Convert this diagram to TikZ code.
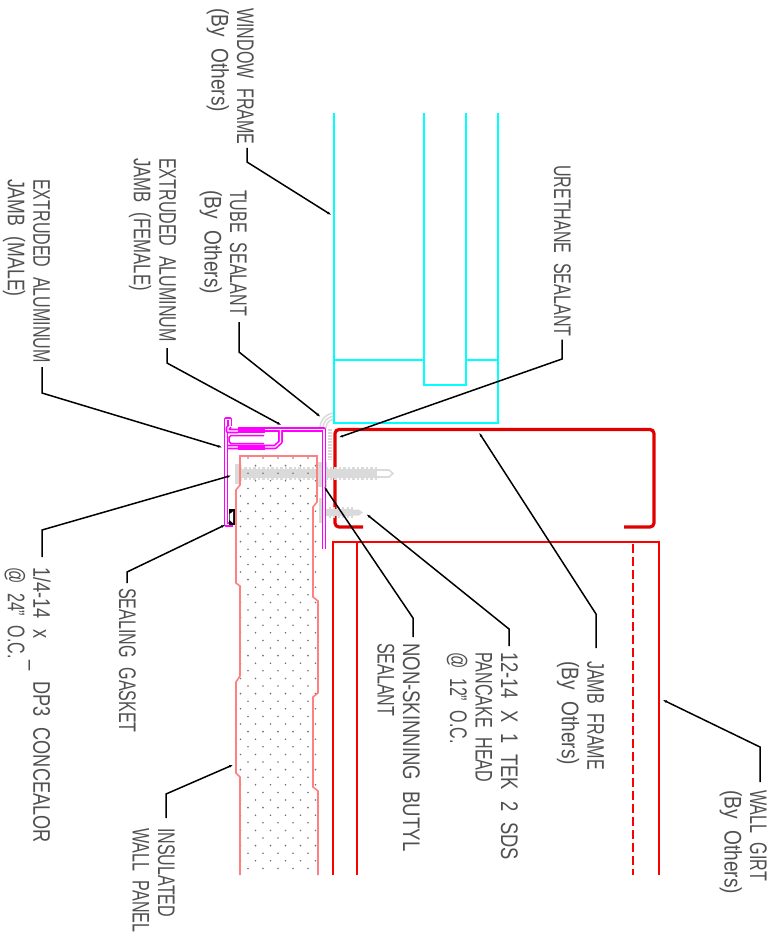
\documentclass[tikz,border=0pt]{standalone}
\usepackage{fontspec}
\setmainfont{Liberation Sans}
\usetikzlibrary{arrows.meta}
\definecolor{txtgray}{RGB}{80,80,80}
\definecolor{jambred}{RGB}{225,0,0}
\definecolor{panelred}{RGB}{255,128,128}
\definecolor{fastgray}{RGB}{218,218,218}
\definecolor{cadcyan}{RGB}{0,255,255}
\definecolor{cadpink}{RGB}{255,0,255}
\newcommand{\wider}[2]{\scalebox{#1}[1]{#2}}
\newcommand{\byothers}{\wider{1.19}{(By Others)}}
\tikzset{ lbl/.style = { rotate        = -90
                       , xscale        = 0.67
                       , transform shape
                       , anchor        = north west
                       , inner sep     = 0pt
                       , align         = left
                       , text          = txtgray
                       , font          = \fontsize{24}{25.5}\selectfont
                       , execute at begin node = {\spaceskip=.6em\relax}
                       },
            lead/.style = { draw = black
                       , line width = 1.5pt
                       , -{Latex[length=6pt,width=2.6pt]}
                       },
            glass/.style = { draw = cadcyan, line width = 1.3pt },
            girt/.style = { draw = red, line width = 1.4pt },
            alum/.style = { draw = cadpink
                       , line width = 1.7pt
                       , double = white
                       , double distance = 1.2pt
                       , line join = round
                       },
            thread/.style = { draw = fastgray, line width = 2.6pt }
          }

\begin{document}
\begin{tikzpicture}[x=1pt,y=-1pt]
    \useasboundingbox (0,0) rectangle (776,938);
    % tube sealant
    \foreach \r in {9,12,15} {
        \draw[draw=fastgray, line width=1.5pt] (335-\r,428) arc (180:270:\r);
    }
    \draw[draw=fastgray, line width=4pt, dash pattern=on 2pt off 1pt] (330,429) -- (330,460);
    % window frame
    \draw[glass] (334,113) -- (334,423) -- (498,423) -- (498,113);
    \draw[glass] (424,113) -- (424,385) -- (466,385) -- (466,113);
    \draw[glass] (334,360) -- (424,360);
    \draw[glass] (466,360) -- (498,360);
    % wall girt
    \draw[girt] (333,875) -- (333,542) -- (659,542) -- (659,875);
    \draw[girt] (357,542) -- (357,875);
    \draw[girt, dash pattern=on 9pt off 4pt] (633,544) -- (633,875);
    % jamb frame
    \draw[draw=jambred, line width=3.2pt, rounded corners=4pt]
        (363,527) -- (335,527) -- (335,429.5) -- (654,429.5) -- (654,527) -- (624,527);
    % screws
    \fill[fastgray] (235,464) rectangle (240,484);
    \fill[fastgray] (240,469) rectangle (377,478);
    \foreach \x in {241,245.5,...,376} {
        \draw[thread] (\x,467) -- (\x,480);
    }
    \fill[fastgray] (318,462) rectangle (327,487);
    \draw[draw=fastgray, line width=1.6pt] (377,470) -- (389,470) -- (393,473.5) -- (389,477) -- (377,477);
    \fill[fastgray] (319,498) rectangle (323,523);
    \fill[fastgray] (323,509) rectangle (352,516);
    \foreach \x in {325,329.5,...,352} {
        \draw[draw=fastgray, line width=2pt] (\x,507) -- (\x,518);
    }
    \fill[fastgray] (352,509.5) -- (359,509.5) -- (363,512.5) -- (359,515.5) -- (352,515.5) -- cycle;
    % insulated panel
    \begin{scope}
        \clip (236,456) rectangle (319,875);
        \foreach \r in {0,...,54} {
            \foreach \c in {0,...,5} {
                \pgfmathsetmacro{\dotx}{(mod(\r,2)==0 ? 248 : 240.5)+15*\c}
                \fill[black!55] (\dotx,458+7.6*\r) circle (0.9pt);
            }
        }
    \end{scope}
    \draw[draw=panelred, line width=1.6pt]
        (240,875) -- (240,777) -- (236,773) -- (236,682) -- (240,676) -- (240,586) -- (236,583)
        -- (236,490) -- (240,485) -- (240,456) -- (317,456) -- (317,502) -- (313,507)
        -- (313,597) -- (318,601) -- (318,693) -- (313,697) -- (313,787) -- (318,791) -- (318,875);
    % extruded aluminum
    \draw[alum] (324,549) -- (324,429.5) -- (238,429.5);
    \draw[alum] (280.5,430) -- (280.5,442) -- (275,447) -- (227,447);
    \draw[alum] (230,426) -- (230,419.5) -- (226,419.5) -- (226,524.5) -- (233,524.5);
    \draw[alum] (230,426) -- (228,428) -- (228,431) -- (238,431);
    \draw[draw=cadpink, line width=1.5pt] (264,435.5) -- (231,435.5) -- (229,437.5) -- (229,441.5) -- (231,443.5) -- (264,443.5);
    \fill[cadpink] (238,428) rectangle (265,433);
    \fill[cadpink] (238,444.5) rectangle (265,449.5);
    % sealing gasket
    \fill[black] (228.5,509) rectangle (235,525);
    \fill[white] (229.5,514) -- (232.5,512) -- (233,511) -- (233,523) -- (229.5,520) -- cycle;
    % labels
    \node[lbl] (wframe) at (254,8) {WINDOW FRAME\\\byothers};
    \node[lbl] (tube) at (247,190) {TUBE SEALANT\\\byothers};
    \node[lbl] (female) at (176,158) {EXTRUDED ALUMINUM\\\wider{1.04}{JAMB (FEMALE)}};
    \node[lbl] (male) at (50,179) {EXTRUDED ALUMINUM\\\wider{1.1}{JAMB (MALE)}};
    \node[lbl] (urethane) at (571,165) {URETHANE SEALANT};
    \node[lbl] (jframe) at (604,661) {JAMB FRAME\\\byothers};
    \node[lbl] (wgirt) at (767,790) {WALL GIRT\\\byothers};
    \node[lbl] (tek) at (518,652) {\wider{1.14}{12-14 X 1 TEK 2 SDS}\\PANCAKE HEAD\\@ 12" O.C.};
    \node[lbl] (butyl) at (420,643) {\wider{1.155}{NON-SKINNING BUTYL}\\SEALANT};
    \node[lbl] (ipanel) at (175,828) {INSULATED\\WALL PANEL};
    \node[lbl] (gasket) at (136,588) {SEALING GASKET};
    \node[lbl] (dpthree) at (51,567) {\wider{1.13}{1/4-14 x\ \ \_ DP3 CONCEALOR}\\@ 24" O.C.};
    % leaders
    \coordinate (wframe bend) at (247,162);
    \coordinate (wframe tip) at (333,216);
    \coordinate (tube bend) at (239,352);
    \coordinate (tube tip) at (322,418);
    \coordinate (female bend) at (167,363);
    \coordinate (female tip) at (283,426);
    \coordinate (male bend) at (42,393);
    \coordinate (male tip) at (224,448);
    \coordinate (urethane bend) at (562,359);
    \coordinate (urethane tip) at (337,438);
    \coordinate (jframe bend) at (596,614);
    \coordinate (jframe tip) at (478,431);
    \coordinate (wgirt bend) at (760,747);
    \coordinate (wgirt tip) at (661,699);
    \coordinate (tek bend) at (509,629);
    \coordinate (tek tip) at (365,513);
    \coordinate (butyl bend) at (413,618);
    \coordinate (butyl tip) at (323,485);
    \coordinate (ipanel bend) at (166,794);
    \coordinate (ipanel tip) at (235,764);
    \coordinate (gasket bend) at (127,572);
    \coordinate (gasket tip) at (227,524);
    \coordinate (dpthree bend) at (42,530);
    \coordinate (dpthree tip) at (233,475);
    \draw[lead] ([shift={(-7,3)}]wframe.north east) -- (wframe bend) -- (wframe tip);
    \draw[lead] ([shift={(-8,6)}]tube.north east) -- (tube bend) -- (tube tip);
    \draw[lead] ([shift={(-9,6)}]female.north east) -- (female bend) -- (female tip);
    \draw[lead] ([shift={(-8,4)}]male.north east) -- (male bend) -- (male tip);
    \draw[lead] ([shift={(-9,3)}]urethane.north east) -- (urethane bend) -- (urethane tip);
    \draw[lead] ([shift={(-8,-13)}]jframe.north west) -- (jframe bend) -- (jframe tip);
    \draw[lead] ([shift={(-7,-8)}]wgirt.north west) -- (wgirt bend) -- (wgirt tip);
    \draw[lead] ([shift={(-9,-6)}]tek.north west) -- (tek bend) -- (tek tip);
    \draw[lead] ([shift={(-7,-6)}]butyl.north west) -- (butyl bend) -- (butyl tip);
    \draw[lead] ([shift={(-9,-10)}]ipanel.north west) -- (ipanel bend) -- (ipanel tip);
    \draw[lead] ([shift={(-9,-5)}]gasket.north west) -- (gasket bend) -- (gasket tip);
    \draw[lead] ([shift={(-9,-10)}]dpthree.north west) -- (dpthree bend) -- (dpthree tip);
\end{tikzpicture}
\end{document}
